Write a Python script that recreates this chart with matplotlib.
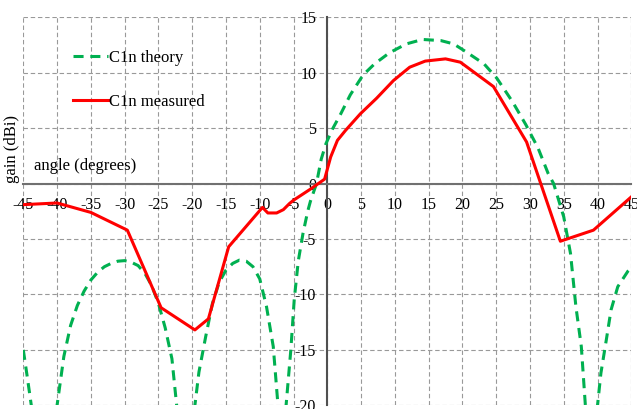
import matplotlib
matplotlib.use("Agg")
import matplotlib.pyplot as plt

plt.rcParams["font.family"] = ["Liberation Serif", "DejaVu Serif"]
plt.rcParams["axes.unicode_minus"] = False

# Theoretical pattern (dBi) versus angle (degrees); nulls dip below the plotted range
theory_angle = [-45, -44.4, -43.7, -41.8, -40.0, -39.0, -38.0, -37.0, -36.0, -35.0,
                -34.0, -33.0, -32.0, -31.0, -30.0, -29.0, -28.0, -27.0, -26.0, -25.0,
                -24.0, -23.0, -22.3, -21.0, -19.6, -19.0, -18.0, -17.0, -16.0, -15.0,
                -14.0, -13.0, -12.0, -11.0, -10.0, -9.0, -8.0, -7.3, -6.7, -6.1,
                -5.4, -4.9, -4.3, -3.6, -2.9, -2.5, -1.6, -0.9, -0.2, 0.75,
                2.0, 3.4, 5.3, 7.0, 9.2, 11.7, 14.1, 16.8, 18.7, 20.5,
                23.2, 25.1, 27.4, 29.4, 31.2, 32.7, 33.5, 35.0, 36.0, 36.8,
                37.6, 38.2, 39.1, 40.0, 40.5, 41.3, 42.0, 43.0, 44.5, 45.0]
theory_gain = [-15.0, -17.5, -20.5, -40.0, -20.0, -15.6, -12.8, -11.0, -9.7, -8.7,
               -8.0, -7.5, -7.2, -7.0, -6.95, -7.1, -7.4, -8.1, -9.2, -10.8,
               -13.0, -15.8, -20.0, -40.0, -20.0, -17.0, -13.8, -10.8, -8.9, -7.8,
               -7.2, -6.9, -7.0, -7.5, -8.6, -11.1, -14.7, -20.0, -40.0, -20.0,
               -15.0, -10.5, -7.0, -4.5, -2.5, -1.6, 0.0, 2.2, 3.6, 4.9,
               6.3, 8.0, 9.8, 10.8, 11.8, 12.6, 13.0, 12.9, 12.6, 11.9,
               10.8, 9.5, 7.4, 5.3, 3.2, 0.9, 0.0, -3.0, -6.3, -11.1,
               -14.7, -20.0, -40.0, -20.0, -17.1, -14.1, -11.4, -9.3, -7.9, -7.6]

# Measured pattern (dBi)
meas_angle = [-45, -40, -35, -29.6, -24.6, -19.6, -17.6, -14.6, -9.6, -8.8,
              -7.5, -6.5, -5.6, -5.0, -2.5, -0.4, 0.5, 1.5, 2.7, 4.9,
              7.3, 9.8, 12.2, 14.5, 17.5, 19.7, 24.6, 29.5, 34.5, 39.4, 45]
meas_gain = [-1.9, -1.75, -2.6, -4.2, -11.2, -13.2, -12.2, -5.7, -2.15, -2.65,
             -2.65, -2.35, -1.8, -1.5, -0.5, 0.4, 2.4, 3.9, 4.8, 6.3,
             7.7, 9.3, 10.5, 11.05, 11.25, 10.95, 8.75, 3.75, -5.2, -4.2, -1.2]

x_ticks = list(range(-45, 50, 5))
y_ticks = list(range(-20, 20, 5))

W, H = 637, 409
fig = plt.figure(figsize=(W / 100, H / 100), dpi=100)
ax = fig.add_axes([23.3 / W, 1 - 405.3 / H, 608.0 / W, 388.0 / H])

ax.set_xlim(-45, 45)
ax.set_ylim(-20, 15)
ax.set_xticks(x_ticks)
ax.set_yticks(y_ticks)
ax.set_xticklabels([str(v) for v in x_ticks])
ax.set_yticklabels([str(v) for v in y_ticks])

ax.grid(True, color="#999999", linewidth=0.8, linestyle=(0, (4, 2.5)))
ax.set_axisbelow(True)

for side in ("top", "right"):
    ax.spines[side].set_visible(False)
ax.spines["left"].set_position(("data", 0))
ax.spines["bottom"].set_position(("data", 0))
ax.spines["left"].set_color("#505050")
ax.spines["bottom"].set_color("#707070")
ax.spines["left"].set_linewidth(1.5)
ax.spines["bottom"].set_linewidth(1.5)

ax.tick_params(axis="x", length=0, pad=9.5, labelsize=11.5)
ax.tick_params(axis="y", length=0, pad=8, labelsize=11.5)

green = "#00B050"
red = "#FF0000"
ax.plot(theory_angle, theory_gain, color=green, linewidth=2.2,
        linestyle=(0, (3.3, 2.2)), label="C1n theory", zorder=3)
ax.plot(meas_angle, meas_gain, color=red, linewidth=2.2,
        label="C1n measured", zorder=4)

ax.legend(loc="upper left", bbox_to_anchor=(73 / W, 1 - 50 / H),
          bbox_transform=fig.transFigure, frameon=False, fontsize=12,
          borderpad=0, borderaxespad=0, handlelength=2.1,
          handletextpad=0.05, labelspacing=1.7)

fig.text(12 / W, 1 - 149 / H, "gain (dBi)", rotation=90, ha="center",
         va="center", fontsize=12)
fig.text(34 / W, 1 - 170 / H, "angle (degrees)", ha="left",
         va="baseline", fontsize=12)

fig.savefig("out.png", dpi=100)
